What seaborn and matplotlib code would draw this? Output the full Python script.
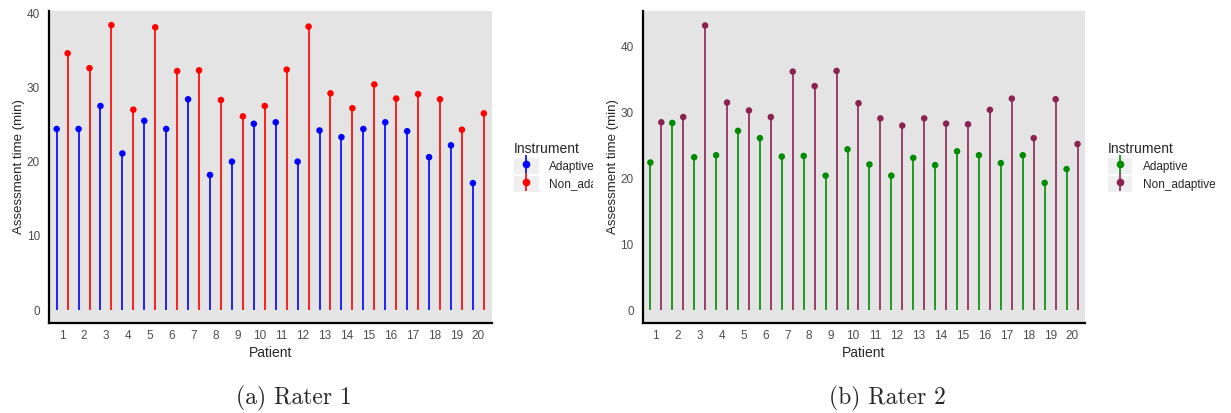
import numpy as np
import pandas as pd
import matplotlib
matplotlib.use("Agg")
import matplotlib.pyplot as plt
from matplotlib.lines import Line2D
from matplotlib.patches import Rectangle
from matplotlib.legend_handler import HandlerTuple
import seaborn as sns

sns.set_style("white")
plt.rcParams['font.family'] = ['Liberation Sans', 'DejaVu Sans']

patients = list(range(1, 21))
instruments = ["Adaptive", "Non_adaptive"]

# rater 1 (minutes)
r1_adaptive = [24.4, 24.4, 27.5, 21.1, 25.5, 24.4, 28.4, 18.2, 20.0, 25.1,
               25.3, 20.0, 24.2, 23.3, 24.4, 25.3, 24.1, 20.6, 22.2, 17.1]
r1_non_adaptive = [34.6, 32.6, 38.4, 27.0, 38.1, 32.2, 32.3, 28.3, 26.1, 27.5,
                   32.4, 38.2, 29.2, 27.2, 30.4, 28.5, 29.1, 28.4, 24.3, 26.5]
# rater 2 (minutes)
r2_adaptive = [22.4, 28.4, 23.2, 23.5, 27.2, 26.1, 23.3, 23.4, 20.4, 24.4,
               22.1, 20.4, 23.1, 22.0, 24.1, 23.5, 22.3, 23.5, 19.3, 21.4]
r2_non_adaptive = [28.5, 29.3, 43.2, 31.5, 30.3, 29.3, 36.2, 34.0, 36.3, 31.4,
                   29.1, 28.0, 29.1, 28.3, 28.2, 30.4, 32.1, 26.1, 32.0, 25.2]

captions = ["(a) Rater 1", "(b) Rater 2"]
palettes = [{"Adaptive": "#0000FF", "Non_adaptive": "#FF0000"},
            {"Adaptive": "#008B00", "Non_adaptive": "#8B2252"}]


def make_df(adaptive, non_adaptive):
    df = pd.DataFrame({
        "Patient": patients * 2,
        "Instrument": ["Adaptive"] * 20 + ["Non_adaptive"] * 20,
        "time": adaptive + non_adaptive,
    })
    # dodge like position_dodge(0.5)
    df["pos"] = df["Patient"] + np.where(df["Instrument"] == "Adaptive", -0.25, 0.25)
    return df


dfs = [make_df(r1_adaptive, r1_non_adaptive), make_df(r2_adaptive, r2_non_adaptive)]
ylims = [(-1.75, 40.3), (-1.97, 45.4)]
yticks = [[0, 10, 20, 30, 40], [0, 10, 20, 30, 40]]

fig = plt.figure(figsize=(12.31, 4.13), dpi=100)
lefts = [49 / 1231, 642.7 / 1231]
cap_x = [294 / 1231, 887 / 1231]
axes = []
for i in range(2):
    ax = fig.add_axes([lefts[i], 90 / 413, 442.5 / 1231, 312 / 413])
    axes.append(ax)
    df = dfs[i]
    pal = palettes[i]
    ax.set_facecolor("#E4E4E4")
    for inst in instruments:
        sub = df[df["Instrument"] == inst]
        ax.vlines(sub["pos"], 0, sub["time"], color=pal[inst], lw=1.2, zorder=2)
    sns.scatterplot(data=df, x="pos", y="time", hue="Instrument", palette=pal,
                    s=22, edgecolor="none", legend=False, ax=ax, zorder=3)
    ax.set_xlim(0.4, 20.6)
    ax.set_ylim(*ylims[i])
    ax.set_xticks(patients)
    ax.set_yticks(yticks[i])
    ax.tick_params(axis="both", colors="#333333", labelcolor="#4D4D4D",
                   labelsize=8.5, length=3, width=0.8, direction="out")
    ax.tick_params(axis="x", pad=2)
    ax.set_xlabel("Patient", fontsize=10, labelpad=3)
    ax.set_ylabel("Assessment time (min)", fontsize=9.5, labelpad=1)
    for s in ["top", "right"]:
        ax.spines[s].set_visible(False)
    for s in ["left", "bottom"]:
        ax.spines[s].set_color("black")
        ax.spines[s].set_linewidth(1.6)

    handles = []
    for inst in instruments:
        handles.append((Rectangle((0, 0), 1, 1, facecolor="#EFEFEF", edgecolor="none"),
                        Line2D([], [], color=pal[inst], marker="|", markersize=13,
                               markeredgewidth=1.2, linestyle="none"),
                        Line2D([], [], color=pal[inst], marker="o", markersize=4.5,
                               linestyle="none")))
    leg = ax.legend(handles, instruments, title="Instrument", loc="center left",
                    bbox_to_anchor=(1.04, 0.50), frameon=False, fontsize=8.5,
                    title_fontsize=10, handlelength=2.1, handleheight=1.7,
                    handletextpad=0.9, labelspacing=0.15, borderaxespad=0,
                    handler_map={tuple: HandlerTuple(ndivide=1, pad=0)})
    leg._legend_box.align = "left"

    fig.text(cap_x[i], 0.035, captions[i], family="cmr10", fontsize=17,
             ha="center", va="center")

# the right picture sits over the end of the left legend
axes[0].set_zorder(0)
axes[1].set_zorder(2)
fig.patches.append(Rectangle((593 / 1231, 0.12), 47 / 1231, 0.88, transform=fig.transFigure,
                             facecolor="white", edgecolor="none", zorder=1))

fig.savefig("out.png", dpi=100)
